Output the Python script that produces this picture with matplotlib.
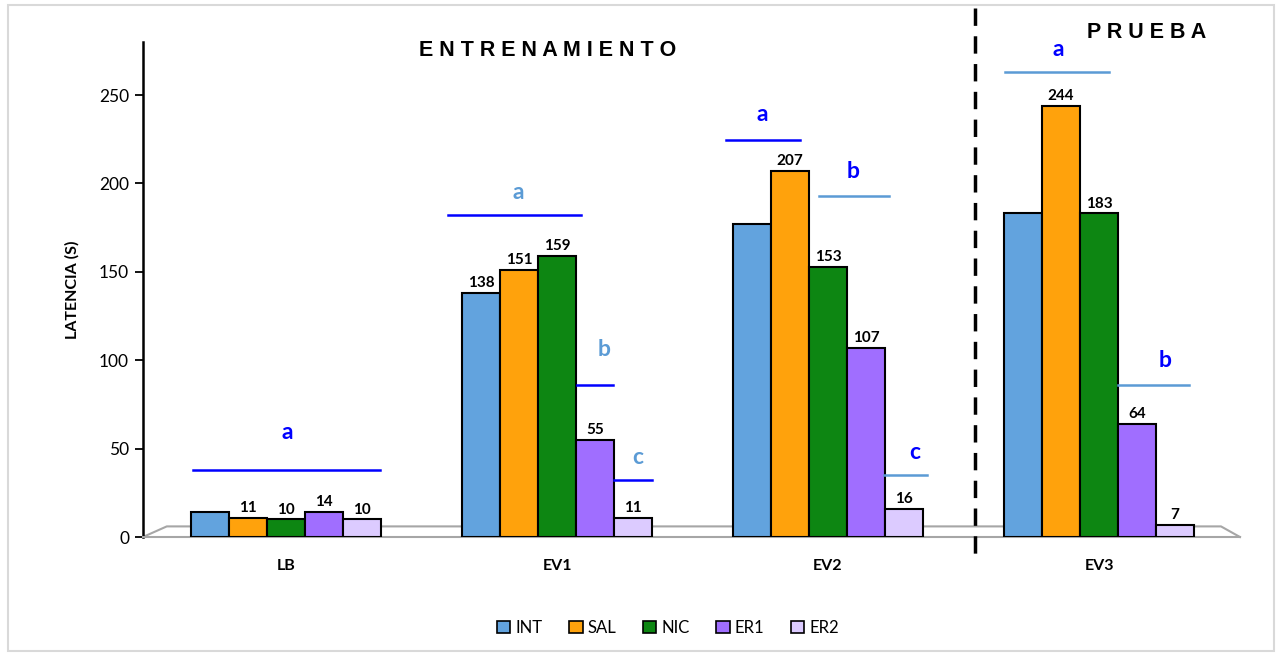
import matplotlib
matplotlib.use("Agg")
import matplotlib.pyplot as plt
from matplotlib.patches import Rectangle, Patch
import numpy as np

plt.rcParams['font.family'] = ['Lato', 'DejaVu Sans']

categories = ["LB", "EV1", "EV2", "EV3"]
series_names = ["INT", "SAL", "NIC", "ER1", "ER2"]
INT = [14, 138, 177, 183]
SAL = [11, 151, 207, 244]
NIC = [10, 159, 153, 183]
ER1 = [14, 55, 107, 64]
ER2 = [10, 11, 16, 7]
# value labels shown on chart (None = no label)
INT_lbl = [None, 138, None, None]
SAL_lbl = [11, 151, 207, 244]
NIC_lbl = [10, 159, 153, 183]
ER1_lbl = [14, 55, 107, 64]
ER2_lbl = [10, 11, 16, 7]
yticks = [0, 50, 100, 150, 200, 250]

colors = ["#62A3DE", "#FFA20C", "#0D8612", "#A06EFF", "#DCCBFF"]

# significance letters: (letter, x, y, text colour)
sig_letters = [("a", 0.004, 59, "#0000FF"),
               ("a", 0.856, 195, "#5B9BD5"), ("b", 1.173, 106, "#5B9BD5"), ("c", 1.299, 45, "#5B9BD5"),
               ("a", 1.756, 239, "#0000FF"), ("b", 2.092, 207, "#0000FF"), ("c", 2.321, 47.6, "#0000FF"),
               ("a", 2.849, 276, "#0000FF"), ("b", 3.244, 100, "#0000FF")]
# significance lines: (x0, x1, y, colour)
sig_lines = [(-0.343, 0.347, 38, "#0000FF"),
             (0.598, 1.089, 182, "#0000FF"), (1.074, 1.207, 86, "#0000FF"), (1.210, 1.351, 32.5, "#0000FF"),
             (1.624, 1.897, 224.5, "#0000FF"), (1.967, 2.225, 193, "#5B9BD5"), (2.207, 2.365, 35, "#5B9BD5"),
             (2.653, 3.037, 263, "#5B9BD5"), (3.070, 3.332, 86, "#5B9BD5")]

fig = plt.figure(figsize=(12.82, 6.56), dpi=100)
fig.patches.append(Rectangle((0.006, 0.008), 0.988, 0.984, transform=fig.transFigure,
                             fill=False, edgecolor="#D9D9D9", linewidth=1.5))
ax = fig.add_axes([0.1115, 0.1814, 0.8557, 0.7546])

data = [INT, SAL, NIC, ER1, ER2]
labels = [INT_lbl, SAL_lbl, NIC_lbl, ER1_lbl, ER2_lbl]
x = np.arange(len(categories))
w = 0.14
for i, (vals, lbls, c) in enumerate(zip(data, labels, colors)):
    pos = x + (i - 2) * w
    ax.bar(pos, vals, width=w, color=c, edgecolor="black", linewidth=1.5, zorder=3)
    for p, v, l in zip(pos, vals, lbls):
        if l is not None:
            ax.annotate(str(l), (p, v), xytext=(0, 2), textcoords="offset points",
                        ha="center", va="bottom", fontsize=11, fontweight="bold", zorder=5)

for (t, sx, sy, c) in sig_letters:
    ax.text(sx, sy, t, color=c, fontsize=16.5, fontweight="bold", ha="center", va="center", zorder=6)
for (x0, x1, sy, c) in sig_lines:
    ax.plot([x0, x1], [sy, sy], color=c, linewidth=1.8, zorder=6)

ax.set_xlim(-0.528, 3.52)
ax.set_ylim(0, 280)
ax.set_yticks(yticks)
ax.set_xticks(x)
ax.set_xticklabels(categories, fontweight="bold", fontsize=11.5)
ax.tick_params(axis="x", length=0, pad=16)
ax.tick_params(axis="y", length=6, width=1.3, labelsize=12.5, direction="out", pad=4)
for s in ["top", "right"]:
    ax.spines[s].set_visible(False)
ax.spines["left"].set_linewidth(1.8)
ax.spines["bottom"].set_color("#A6A6A6")
ax.spines["bottom"].set_linewidth(1.5)
# floor back line
ax.plot([-0.528, -0.44, 3.45, 3.52], [0, 6, 6, 0], color="#A6A6A6", linewidth=1.5, zorder=1, clip_on=False)

ax.set_ylabel("LATENCIA (S)", fontweight="bold", fontsize=11.5, labelpad=14)

# dashed separator
fig.add_artist(plt.Line2D([975 / 1282, 975 / 1282], [1 - 8 / 656, 1 - 562 / 656],
                          transform=fig.transFigure, color="black", linewidth=2.5,
                          linestyle=(0, (5, 3))))

fig.text(548 / 1282, 1 - 50 / 656, "E N T R E N A M I E N T O", ha="center", va="center",
         fontsize=15.5, fontweight="bold", family=["Liberation Sans"])
fig.text(1147 / 1282, 1 - 32 / 656, "P R U E B A", ha="center", va="center",
         fontsize=15.5, fontweight="bold", family=["Liberation Sans"])

handles = [Patch(facecolor=c, edgecolor="black", linewidth=1.2, label=n) for c, n in zip(colors, series_names)]
fig.legend(handles=handles, loc="center", bbox_to_anchor=(0.521, 0.043), ncol=5, frameon=False,
           fontsize=12, handlelength=0.8, handleheight=0.8, handletextpad=0.3, columnspacing=1.6)

fig.savefig("out.png", dpi=100)
